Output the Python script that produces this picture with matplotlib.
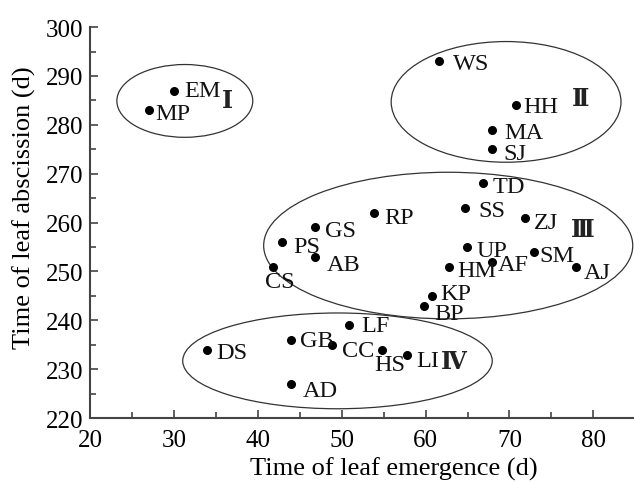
import matplotlib
matplotlib.use("Agg")
import matplotlib.pyplot as plt
from matplotlib.patches import Ellipse
from matplotlib.ticker import MultipleLocator

plt.rcParams['font.family'] = ['Liberation Serif', 'DejaVu Serif']

names = ["EM", "MP", "WS", "HH", "MA", "SJ", "TD", "SS", "RP", "ZJ", "GS", "PS",
         "AB", "CS", "UP", "HM", "AF", "SM", "AJ", "KP", "BP", "LF", "GB", "CC",
         "HS", "LI", "DS", "AD"]
emergence = [30, 27, 61.6, 70.8, 67.9, 67.9, 66.8, 64.7, 53.8, 71.8, 46.8, 42.9,
             46.8, 41.8, 64.9, 62.8, 67.9, 72.9, 77.9, 60.8, 59.8, 50.9, 44, 48.9,
             54.8, 57.8, 33.9, 44]
abscission = [287, 283, 293, 284, 279, 275, 268, 263, 262, 261, 259, 256,
              253, 251, 255, 251, 252, 254, 251, 245, 243, 239, 236, 235,
              234, 233, 234, 227]

group_labels = ["Ⅰ", "Ⅱ", "Ⅲ", "Ⅳ"]

# layout (pixel offsets of labels from their points)
label_offsets = {
    "EM": (10, 0), "MP": (7, -3), "WS": (14, -2), "HH": (7, -1), "MA": (12, -3),
    "SJ": (12, -4), "TD": (10, -3), "SS": (13, -3), "RP": (11, -5), "ZJ": (9, -5),
    "GS": (10, -3), "PS": (11, -4), "AB": (12, -8), "CS": (-8, -15), "UP": (10, -3),
    "HM": (8, -4), "AF": (6, -3), "SM": (6, -4), "AJ": (8, -6), "KP": (8, 2),
    "BP": (10, -8), "LF": (12, 0), "GB": (9, -1), "CC": (10, -6), "HS": (-8, -15),
    "LI": (9, -6), "DS": (10, -3), "AD": (11, -7),
}
ellipses = [((31.3, 284.9), 16.2, 14.9), ((69.6, 284.7), 27.4, 24.7),
            ((62.7, 255.3), 44.0, 30.0), ((49.5, 231.7), 36.9, 19.6)]
group_pos = [(36.4, 284.8), (78.5, 285.2), (78.7, 258.3), (63.4, 231.3)]

fig = plt.figure(figsize=(6.34, 4.85), dpi=100)
ax = fig.add_axes([0.142, 0.136, 0.86, 0.806])

ax.scatter(emergence, abscission, s=30, color='black', zorder=3)
for n, x, y in zip(names, emergence, abscission):
    dx, dy = label_offsets[n]
    ax.annotate(n, (x, y), xytext=(dx, dy), textcoords='offset pixels',
                ha='left', va='center', fontsize=17.5, color='#111111')

for (c, w, h) in ellipses:
    ax.add_patch(Ellipse(c, w, h, fill=False, edgecolor='#333333', lw=0.9))

for g, (x, y) in zip(group_labels, group_pos):
    ax.text(x, y, g, ha='center', va='center', fontsize=17, fontweight='bold',
            color='#222222')

ax.set_xlim(20, 85)
ax.set_ylim(220, 300)
ax.xaxis.set_major_locator(MultipleLocator(10))
ax.xaxis.set_minor_locator(MultipleLocator(5))
ax.yaxis.set_major_locator(MultipleLocator(10))
ax.yaxis.set_minor_locator(MultipleLocator(5))
ax.set_xticks([20, 30, 40, 50, 60, 70, 80])
ax.tick_params(which='both', direction='in', color='#444444', width=1.2)
ax.tick_params(which='major', length=6, labelsize=18)
ax.tick_params(axis='x', which='major', pad=8)
ax.tick_params(axis='y', which='major', pad=5)
ax.tick_params(which='minor', length=4)
for s in ['top', 'right']:
    ax.spines[s].set_visible(False)
for s in ['left', 'bottom']:
    ax.spines[s].set_color('#444444')
    ax.spines[s].set_linewidth(1.5)

ax.set_xlabel("Time of leaf emergence (d)", fontsize=19)
ax.set_ylabel("Time of leaf abscission (d)", fontsize=19)
ax.xaxis.set_label_coords(0.558, -0.098)
ax.yaxis.set_label_coords(-0.1, 0.54)

fig.savefig("out.png", dpi=100)
